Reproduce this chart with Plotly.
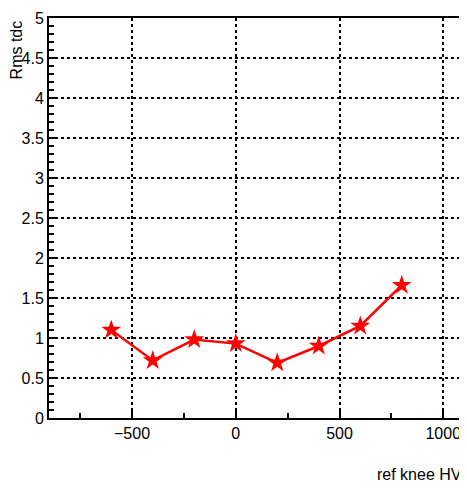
import plotly.graph_objects as go

hv = [-600, -400, -200, 0, 200, 400, 600, 800]
rms = [1.1, 0.72, 0.98, 0.93, 0.69, 0.9, 1.15, 1.66]

fig = go.Figure()
fig.add_trace(go.Scatter(x=hv, y=rms, mode='lines+markers',
                         line=dict(color='red', width=2.5),
                         marker=dict(symbol='star', size=15, color='red')))

axis_common = dict(showline=True, linecolor='black', linewidth=2, mirror=True,
                   showgrid=True, gridcolor='black', griddash='dot', gridwidth=1.5,
                   zeroline=False, ticks='inside', ticklen=9, tickcolor='black', tickwidth=2,
                   tickfont=dict(family='Liberation Sans', size=16, color='black'),
                   minor=dict(ticks='inside', ticklen=5, tickcolor='black', tickwidth=2,
                              showgrid=False))

fig.update_xaxes(range=[-900, 1100], tickvals=[-500, 0, 500, 1000], **axis_common)
fig.update_xaxes(minor_dtick=250)
fig.update_yaxes(range=[0, 5.0001], tickvals=[0, 0.5, 1, 1.5, 2, 2.5, 3, 3.5, 4, 4.5, 5],
                 ticktext=['0', '0.5', '1', '1.5', '2', '2.5', '3', '3.5', '4', '4.5', '5'],
                 **axis_common)
fig.update_yaxes(minor_dtick=0.1)

fig.update_layout(width=459, height=480, showlegend=False,
                  paper_bgcolor='white', plot_bgcolor='white',
                  margin=dict(l=41, r=1, t=10, b=70),
                  annotations=[
                      dict(text='ref knee HV', x=1, y=-0.115, xref='paper', yref='paper',
                           xanchor='right', yanchor='top', showarrow=False,
                           font=dict(family='Liberation Sans', size=16, color='black')),
                      dict(text='Rms tdc', x=-0.052, y=1, xref='paper', yref='paper',
                           xanchor='right', yanchor='top', textangle=-90, showarrow=False,
                           font=dict(family='Liberation Sans', size=16, color='black'))])

fig.write_html("out.html")
